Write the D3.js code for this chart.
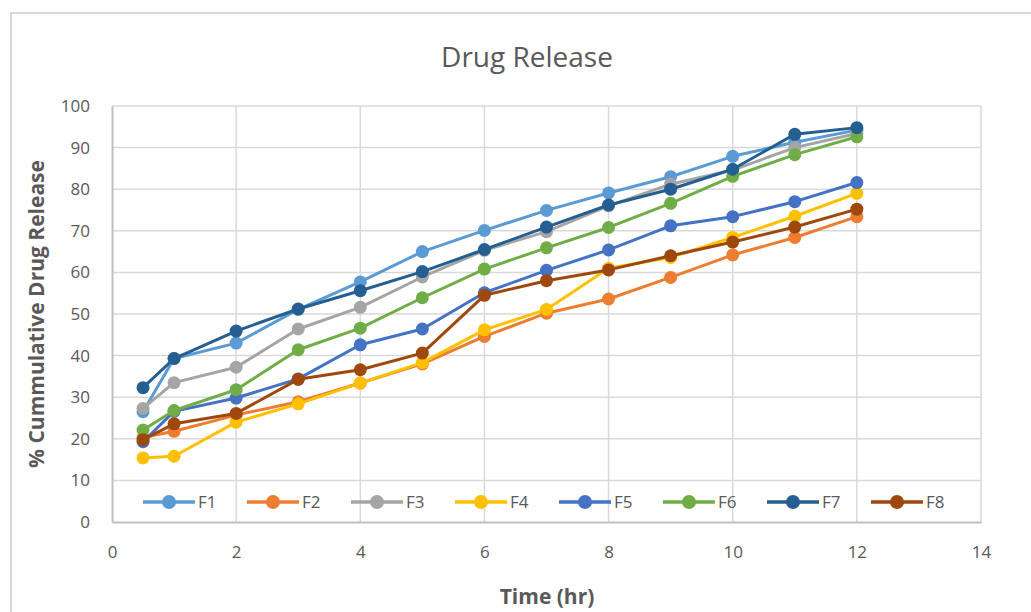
<!DOCTYPE html>
<html lang="en">
<head>
  <meta charset="utf-8">
  <title>Drug Release</title>
  <script src="https://d3js.org/d3.v7.min.js"></script>
  <style>
    body { margin: 0; background: #fff; }
    text { font-family: "Open Sans", "Noto Sans", sans-serif; fill: #595959; }
  </style>
</head>
<body>
<svg id="chart" width="1031" height="612"></svg>
<script>
// time points (hr)
var times = [0.5, 1, 2, 3, 4, 5, 6, 7, 8, 9, 10, 11, 12];

// % cumulative drug release for each formulation
var f1 = [26.5, 39.3, 43.0, 51.1, 57.7, 65.0, 70.1, 74.9, 79.1, 83.0, 87.9, 91.3, 94.2];
var f2 = [20.3, 21.8, 25.7, 28.9, 33.4, 38.0, 44.6, 50.2, 53.6, 58.8, 64.2, 68.4, 73.4];
var f3 = [27.3, 33.5, 37.2, 46.4, 51.6, 58.9, 65.3, 69.8, 76.0, 81.2, 84.6, 90.0, 93.4];
var f4 = [15.4, 15.8, 24.0, 28.4, 33.4, 38.3, 46.2, 51.1, 61.0, 63.6, 68.4, 73.5, 79.0];
var f5 = [19.3, 26.6, 29.8, 34.4, 42.6, 46.4, 55.1, 60.5, 65.4, 71.2, 73.4, 77.0, 81.6];
var f6 = [22.1, 26.8, 31.8, 41.4, 46.6, 53.9, 60.8, 65.9, 70.8, 76.6, 83.1, 88.3, 92.6];
var f7 = [32.3, 39.3, 45.9, 51.2, 55.6, 60.2, 65.5, 70.9, 76.2, 80.0, 84.8, 93.2, 94.8];
var f8 = [19.8, 23.6, 26.1, 34.3, 36.6, 40.6, 54.5, 58.0, 60.6, 64.0, 67.3, 70.9, 75.2];

var names = ["F1", "F2", "F3", "F4", "F5", "F6", "F7", "F8"];
var colors = ["#5b9bd5", "#ed7d31", "#a5a5a5", "#ffc000", "#4472c4", "#70ad47", "#255e91", "#9e480e"];
var seriesValues = [f1, f2, f3, f4, f5, f6, f7, f8];

var xTicks = [0, 2, 4, 6, 8, 10, 12, 14];
var yTicks = [0, 10, 20, 30, 40, 50, 60, 70, 80, 90, 100];

var svg = d3.select("#chart");

// outer chart frame (top and left edges visible)
svg.append("path")
    .attr("d", "M11,612 V13 H1031")
    .attr("fill", "none")
    .attr("stroke", "#d9d9d9")
    .attr("stroke-width", 2);

var x = d3.scaleLinear().domain([0, 14]).range([112, 981]);
var y = d3.scaleLinear().domain([0, 100]).range([522, 106]);

// gridlines
svg.append("g").selectAll("line")
    .data(yTicks.slice(1))
    .enter().append("line")
    .attr("x1", x(0)).attr("x2", x(14))
    .attr("y1", function(d) { return y(d); })
    .attr("y2", function(d) { return y(d); })
    .attr("stroke", "#d9d9d9").attr("stroke-width", 1.5);

svg.append("g").selectAll("line")
    .data(xTicks.slice(1))
    .enter().append("line")
    .attr("y1", y(0)).attr("y2", y(100))
    .attr("x1", function(d) { return x(d); })
    .attr("x2", function(d) { return x(d); })
    .attr("stroke", "#d9d9d9").attr("stroke-width", 1.5);

// axes
var xAxis = d3.axisBottom(x).tickValues(xTicks).tickSize(0).tickPadding(24);
var yAxis = d3.axisLeft(y).tickValues(yTicks).tickSize(0).tickPadding(22);

var gx = svg.append("g").attr("transform", "translate(0," + y(0) + ")").call(xAxis);
var gy = svg.append("g").attr("transform", "translate(" + x(0) + ",0)").call(yAxis);

[gx, gy].forEach(function(g) {
    g.select(".domain").attr("stroke", "#bfbfbf").attr("stroke-width", 2);
    g.selectAll("text")
        .style("font-family", "'Open Sans', sans-serif")
        .style("font-size", "17px")
        .attr("fill", "#595959");
});

// series
var line = d3.line()
    .x(function(d, i) { return x(times[i]); })
    .y(function(d) { return y(d); });

seriesValues.forEach(function(vals, k) {
    var g = svg.append("g");
    g.append("path")
        .datum(vals)
        .attr("d", line)
        .attr("fill", "none")
        .attr("stroke", colors[k])
        .attr("stroke-width", 3)
        .attr("stroke-linejoin", "round");
    g.selectAll("circle")
        .data(vals)
        .enter().append("circle")
        .attr("cx", function(d, i) { return x(times[i]); })
        .attr("cy", function(d) { return y(d); })
        .attr("r", 6.5)
        .attr("fill", colors[k]);
});

// legend (inside the plot, bottom row)
var legend = svg.append("g").attr("transform", "translate(143,502)");
var item = legend.selectAll("g")
    .data(names)
    .enter().append("g")
    .attr("transform", function(d, i) { return "translate(" + (i * 104) + ",0)"; });
item.append("line")
    .attr("x1", 0).attr("x2", 52)
    .attr("stroke", function(d, i) { return colors[i]; })
    .attr("stroke-width", 3.5);
item.append("circle")
    .attr("cx", 26).attr("r", 7)
    .attr("fill", function(d, i) { return colors[i]; });
item.append("text")
    .attr("x", 55).attr("y", 6)
    .style("font-size", "17px")
    .text(function(d) { return d; });

// title
svg.append("text")
    .attr("x", 527).attr("y", 67)
    .attr("text-anchor", "middle")
    .style("font-size", "28px")
    .text("Drug Release");

// axis titles
svg.append("text")
    .attr("x", 547).attr("y", 604)
    .attr("text-anchor", "middle")
    .style("font-size", "21px")
    .style("font-weight", "bold")
    .text("Time (hr)");

svg.append("text")
    .attr("transform", "translate(44,314) rotate(-90)")
    .attr("text-anchor", "middle")
    .style("font-size", "21px")
    .style("font-weight", "bold")
    .text("% Cummulative Drug Release");
</script>
</body>
</html>
